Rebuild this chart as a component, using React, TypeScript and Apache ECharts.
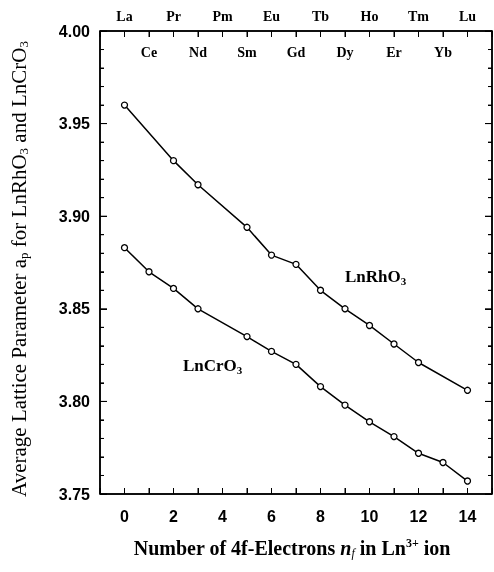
import React, { useEffect, useRef } from "react";
import * as echarts from "echarts";

const elements = ["La", "Ce", "Pr", "Nd", "Pm", "Sm", "Eu", "Gd", "Tb", "Dy", "Ho", "Er", "Tm", "Yb", "Lu"];
const rhX = [0, 2, 3, 5, 6, 7, 8, 9, 10, 11, 12, 14];
const rhY = [3.96, 3.93, 3.917, 3.894, 3.879, 3.874, 3.86, 3.85, 3.841, 3.831, 3.821, 3.806];
const crX = [0, 1, 2, 3, 5, 6, 7, 8, 9, 10, 11, 12, 13, 14];
const crY = [3.883, 3.87, 3.861, 3.85, 3.835, 3.827, 3.82, 3.808, 3.798, 3.789, 3.781, 3.772, 3.767, 3.757];
const bottomLabels = [0, 2, 4, 6, 8, 10, 12, 14];
const xTicks = [-1, 0, 1, 2, 3, 4, 5, 6, 7, 8, 9, 10, 11, 12, 13, 14, 15];
const yTicks = [
  3.75, 3.76, 3.77, 3.78, 3.79, 3.8, 3.81, 3.82, 3.83, 3.84, 3.85, 3.86, 3.87,
  3.88, 3.89, 3.9, 3.91, 3.92, 3.93, 3.94, 3.95, 3.96, 3.97, 3.98, 3.99, 4.0,
];
const X_MIN = -1;
const X_MAX = 15;
const Y_MIN = 3.75;
const Y_MAX = 4.0;

const SERIF = "'Liberation Serif', 'DejaVu Serif', serif";
const SANS = "'Liberation Sans', Arial, sans-serif";

export default function App() {
  const ref = useRef<HTMLDivElement>(null);
  useEffect(() => {
    if (!ref.current) return;
    const chart = echarts.init(ref.current, null, { renderer: "svg" });
    const lineSeries = (xs: number[], ys: number[], name: string) => ({
      type: "line",
      name,
      data: xs.map((x, i) => [x, ys[i]]),
      symbol: "circle",
      symbolSize: 6,
      itemStyle: { color: "#fff", borderColor: "#000", borderWidth: 1.3 },
      lineStyle: { color: "#000", width: 1.5 },
      xAxisIndex: 0,
      yAxisIndex: 0,
      z: 3,
    });
    const mkLine = () => ({ show: true, onZero: false, lineStyle: { color: "#000", width: 1.5 } });
    const mkTick = (len: number) => ({ show: true, inside: true, length: len, lineStyle: { color: "#000", width: 1 } });
    const xBase = () => ({
      type: "value",
      min: X_MIN,
      max: X_MAX,
      interval: 1,
      splitLine: { show: false },
    });
    const yBase = () => ({
      type: "value",
      min: Y_MIN,
      max: Y_MAX,
      interval: 0.05,
      splitLine: { show: false },
      axisLine: mkLine(),
      axisTick: mkTick(7),
      minorTick: { show: true, splitNumber: 5, length: 4, lineStyle: { color: "#000", width: 1 } },
    });
    chart.setOption({
      animation: false,
      grid: { left: 100, right: 2, top: 31, bottom: 78, outerBoundsMode: "none", containLabel: false },
      xAxis: [
        {
          ...xBase(),
          position: "bottom",
          axisLine: mkLine(),
          axisTick: mkTick(6),
          axisLabel: {
            margin: 14,
            fontFamily: SANS,
            fontWeight: "bold",
            fontSize: 16,
            color: "#000",
            formatter: (v: number) => (bottomLabels.includes(v) ? String(v) : ""),
          },
        },
        {
          ...xBase(),
          position: "top",
          axisLine: mkLine(),
          axisTick: mkTick(6),
          axisLabel: {
            margin: 8,
            fontFamily: SERIF,
            fontWeight: "bold",
            fontSize: 14,
            color: "#000",
            formatter: (v: number) => (v >= 0 && v <= 14 && v % 2 === 0 ? elements[v] : ""),
          },
        },
        {
          ...xBase(),
          position: "top",
          axisLine: { show: false, onZero: false },
          axisTick: { show: false },
          axisLabel: {
            inside: true,
            margin: 14,
            fontFamily: SERIF,
            fontWeight: "bold",
            fontSize: 14,
            color: "#000",
            formatter: (v: number) => (v >= 0 && v <= 14 && v % 2 === 1 ? elements[v] : ""),
          },
        },
      ],
      yAxis: [
        {
          ...yBase(),
          position: "left",
          axisLabel: {
            margin: 10,
            fontFamily: SANS,
            fontWeight: "bold",
            fontSize: 16,
            color: "#000",
            formatter: (v: number) => v.toFixed(2),
          },
        },
        {
          ...yBase(),
          position: "right",
          axisLabel: { show: false },
        },
      ],
      graphic: [
        {
          type: "text",
          x: 19,
          y: 269,
          rotation: Math.PI / 2,
          style: {
            text: "Average Lattice Parameter a{sub|p} for LnRhO{sub|3} and LnCrO{sub|3}",
            font: `21px ${SERIF}`,
            fill: "#000",
            align: "center",
            verticalAlign: "middle",
            rich: { sub: { font: `13px ${SERIF}`, fill: "#000", padding: [9, 0, 0, 0] } },
          },
        },
        {
          type: "text",
          x: 292,
          y: 548,
          style: {
            text: "Number of 4f-Electrons {i|n}{isub|f} in Ln{sup|3+} ion",
            font: `bold 20px ${SERIF}`,
            fill: "#000",
            align: "center",
            verticalAlign: "middle",
            rich: {
              i: { font: `italic bold 20px ${SERIF}`, fill: "#000" },
              isub: { font: `italic 12px ${SERIF}`, fill: "#000", padding: [10, 0, 0, 0] },
              sup: { font: `bold 12px ${SERIF}`, fill: "#000", padding: [0, 0, 10, 0] },
            },
          },
        },
        {
          type: "text",
          left: 345,
          top: 268,
          style: {
            text: "LnRhO{sub|3}",
            font: `bold 17px ${SERIF}`,
            fill: "#000",
            rich: { sub: { font: `bold 11px ${SERIF}`, fill: "#000", padding: [8, 0, 0, 0] } },
          },
        },
        {
          type: "text",
          left: 183,
          top: 357,
          style: {
            text: "LnCrO{sub|3}",
            font: `bold 17px ${SERIF}`,
            fill: "#000",
            rich: { sub: { font: `bold 11px ${SERIF}`, fill: "#000", padding: [8, 0, 0, 0] } },
          },
        },
      ],
      series: [
        {
          type: "custom",
          name: "frame",
          xAxisIndex: 0,
          yAxisIndex: 0,
          clip: false,
          silent: true,
          z: 5,
          data: [[X_MIN, Y_MIN]],
          renderItem: (_params: any, api: any) => {
            const tl = api.coord([X_MIN, Y_MAX]);
            const br = api.coord([X_MAX, Y_MIN]);
            const children: any[] = [
              { type: "line", shape: { x1: tl[0], y1: tl[1], x2: br[0], y2: tl[1] }, style: { stroke: "#000", lineWidth: 1.5 } },
              { type: "line", shape: { x1: tl[0], y1: br[1], x2: br[0], y2: br[1] }, style: { stroke: "#000", lineWidth: 1.5 } },
              { type: "line", shape: { x1: tl[0], y1: tl[1], x2: tl[0], y2: br[1] }, style: { stroke: "#000", lineWidth: 1.5 } },
              { type: "line", shape: { x1: br[0], y1: tl[1], x2: br[0], y2: br[1] }, style: { stroke: "#000", lineWidth: 1.5 } },
            ];
            xTicks.forEach((v) => {
              const px = api.coord([v, Y_MIN])[0];
              children.push({ type: "line", shape: { x1: px, y1: br[1], x2: px, y2: br[1] - 6 }, style: { stroke: "#000", lineWidth: 1 } });
              children.push({ type: "line", shape: { x1: px, y1: tl[1], x2: px, y2: tl[1] + 6 }, style: { stroke: "#000", lineWidth: 1 } });
            });
            yTicks.forEach((v) => {
              const py = api.coord([X_MIN, v])[1];
              const major = Math.abs(v * 20 - Math.round(v * 20)) < 1e-6;
              const len = major ? 7 : 4;
              children.push({ type: "line", shape: { x1: tl[0], y1: py, x2: tl[0] + len, y2: py }, style: { stroke: "#000", lineWidth: 1 } });
              children.push({ type: "line", shape: { x1: br[0], y1: py, x2: br[0] - len, y2: py }, style: { stroke: "#000", lineWidth: 1 } });
            });
            return { type: "group", children };
          },
        },
        lineSeries(rhX, rhY, "LnRhO3"),
        lineSeries(crX, crY, "LnCrO3"),
      ],
    });
    return () => chart.dispose();
  }, []);
  return <div ref={ref} style={{ position: "fixed", left: 0, top: 0, width: 494, height: 572 }} />;
}
